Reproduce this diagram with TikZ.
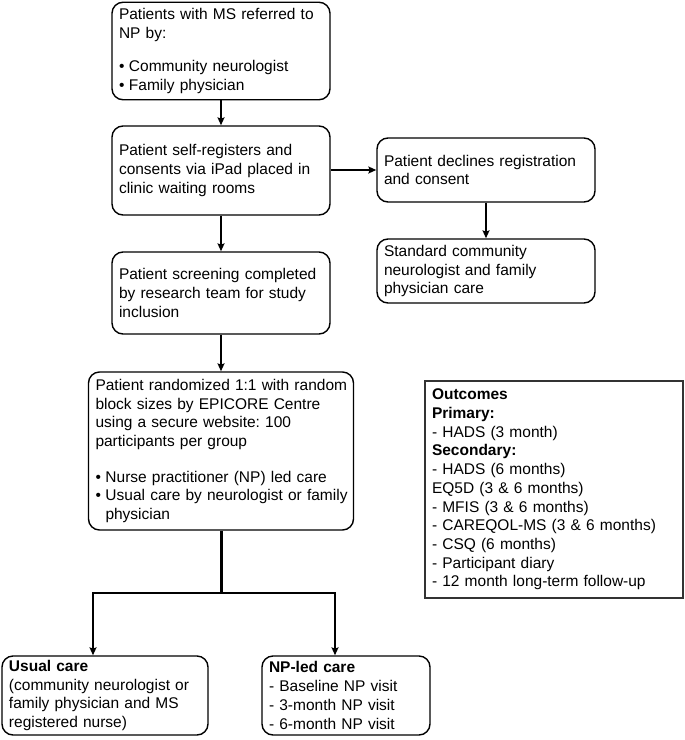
\documentclass[tikz,border=0pt]{standalone}
\usepackage{fontspec}
\setmainfont{Liberation Sans}
\usetikzlibrary{arrows.meta}
\begin{document}
\frenchspacing
\begin{tikzpicture}[x=1pt,y=-1pt,
  every node/.style={font=\fontsize{15.5}{18.7}\selectfont},
  box/.style={draw=black, line width=1.4pt, rounded corners=11pt, align=left, inner xsep=7pt, inner ysep=0pt},
  outbox/.style={draw=black!80, line width=1.4pt, align=left, inner xsep=7pt, inner ysep=0pt},
  conn/.style={line width=1.7pt, -{Stealth[length=8pt,width=7pt,inset=1.5pt]}},
  trunk/.style={line width=3pt}]
\useasboundingbox (0,0) rectangle (685,740);
\newcommand{\bul}{\makebox[10pt][l]{\textbullet}}

\node[box, minimum width=218pt, minimum height=97.5pt, text width=204pt] (b1) at (221,51)
  {Patients with MS referred to\\NP by:\\[14pt]\bul Community neurologist\\\bul Family physician};
\node[box, minimum width=218pt, minimum height=89pt, text width=204pt] (b2) at (221,170.5)
  {Patient self-registers and\\consents via iPad placed in\\clinic waiting rooms};
\node[box, minimum width=218pt, minimum height=64pt, text width=204pt] (dec) at (486,170)
  {Patient declines registration\\and consent};
\node[box, minimum width=218pt, minimum height=64pt, text width=204pt] (std) at (486,271)
  {Standard community\\neurologist and family\\physician care};
\node[box, minimum width=218pt, minimum height=82pt, text width=204pt] (b3) at (221,293)
  {Patient screening completed\\by research team for study\\inclusion};
\node[box, minimum width=265pt, minimum height=158pt, text width=251pt] (b4) at (221,451)
  {\mbox{Patient randomized 1:1 with random}\\block sizes by EPICORE Centre\\using a secure website: 100\\participants per group\\[17pt]\bul Nurse practitioner (NP) led care\\\mbox{\bul Usual care by neurologist or family}\\\hspace*{10pt}physician};
\node[box, minimum width=206pt, minimum height=79pt, text width=192pt] (usual) at (105,695.5)
  {\textbf{Usual care}\\(community neurologist or\\family physician and MS\\registered nurse)};
\node[box, minimum width=168pt, minimum height=79pt, text width=154pt] (np) at (346,695.5)
  {\textbf{NP-led care}\\- Baseline NP visit\\- 3-month NP visit\\- 6-month NP visit};
\node[outbox, minimum width=258pt, minimum height=217pt, text width=244pt] (out) at (554,489.5)
  {\textbf{Outcomes}\\\textbf{Primary:}\\- HADS (3 month)\\\textbf{Secondary:}\\- HADS (6 months)\\EQ5D (3 \& 6 months)\\- MFIS (3 \& 6 months)\\- CAREQOL-MS (3 \& 6 months)\\- CSQ (6 months)\\- Participant diary\\- 12 month long-term follow-up};

\draw[conn] (b1) -- (b2);
\draw[conn] (b2) -- (b3);
\draw[conn] (b3) -- (b4);
\draw[conn] (dec.west -| b2.east) -- (dec.west);
\draw[conn] (dec) -- (std);
\coordinate (jy) at (0,593);
\draw[trunk] (b4.south) -- (b4.south |- jy) coordinate (j);
\draw[conn] (j) -| ([xshift=-12pt]usual.north);
\draw[conn] (j) -| ([xshift=-11pt]np.north);
\end{tikzpicture}
\end{document}
